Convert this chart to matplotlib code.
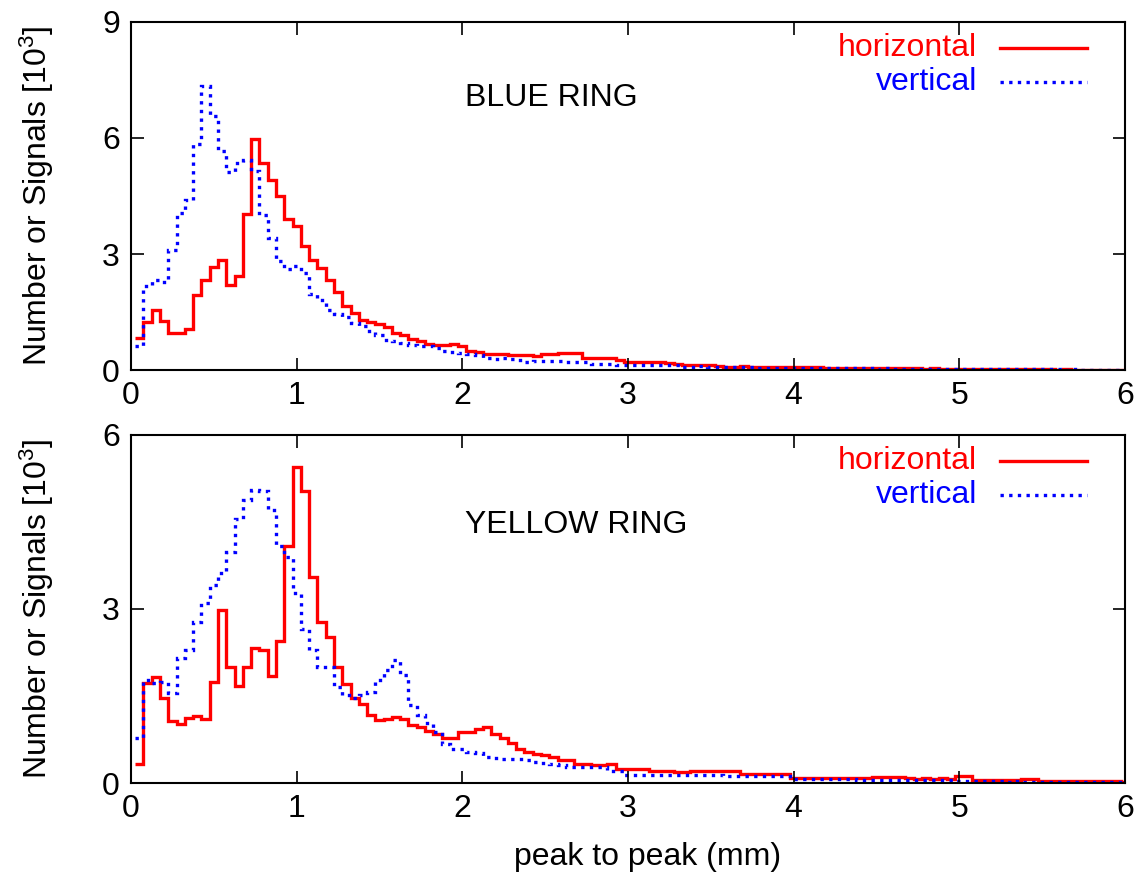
import numpy as np
import matplotlib
matplotlib.use('Agg')
import matplotlib.pyplot as plt

plt.rcParams['font.family'] = ['Liberation Sans', 'DejaVu Sans']
plt.rcParams['mathtext.default'] = 'regular'

# histogram bin width (mm), first bin centred at 0.05
bin_w = 0.05

# blue ring, counts per bin [10^3]
blue_h = [0.83, 1.24, 1.56, 1.28, 0.96, 0.96, 1.06, 1.93, 2.32, 2.66,
          2.84, 2.21, 2.42, 4.04, 5.97, 5.35, 4.92, 4.51, 3.90, 3.72,
          3.21, 2.85, 2.63, 2.32, 2.01, 1.66, 1.47, 1.29, 1.23, 1.20,
          1.11, 0.96, 0.91, 0.80, 0.74, 0.68, 0.64, 0.65, 0.67, 0.61,
          0.50, 0.46, 0.42, 0.42, 0.42, 0.40, 0.38, 0.40, 0.37, 0.41,
          0.41, 0.44, 0.44, 0.44, 0.31, 0.31, 0.30, 0.31, 0.25, 0.22,
          0.22, 0.20, 0.20, 0.20, 0.17, 0.16, 0.14, 0.13, 0.13, 0.14,
          0.10, 0.09, 0.09, 0.10, 0.09, 0.09, 0.09, 0.08, 0.09, 0.08,
          0.08, 0.07, 0.07, 0.06, 0.06, 0.05, 0.06, 0.05, 0.05, 0.05,
          0.04, 0.05, 0.04, 0.04, 0.04, 0.03, 0.04, 0.03, 0.03, 0.03,
          0.03, 0.03, 0.02, 0.03, 0.02, 0.02, 0.02, 0.02, 0.02, 0.02,
          0.02, 0.01, 0.02, 0.01, 0.01, 0.01, 0.01, 0.01, 0.01, 0.01]

blue_v = [0.61, 2.18, 2.32, 2.27, 3.11, 4.06, 4.40, 5.85, 7.35, 6.56,
          5.66, 5.12, 5.35, 5.44, 5.14, 4.02, 3.41, 2.83, 2.62, 2.70,
          2.51, 1.97, 1.80, 1.54, 1.45, 1.37, 1.22, 1.13, 1.00, 0.91,
          0.78, 0.74, 0.70, 0.65, 0.61, 0.63, 0.57, 0.48, 0.46, 0.44,
          0.42, 0.40, 0.31, 0.28, 0.31, 0.28, 0.25, 0.22, 0.24, 0.24,
          0.24, 0.23, 0.21, 0.21, 0.20, 0.15, 0.15, 0.15, 0.14, 0.14,
          0.14, 0.13, 0.14, 0.13, 0.13, 0.13, 0.09, 0.09, 0.10, 0.09,
          0.09, 0.09, 0.09, 0.09, 0.08, 0.06, 0.05, 0.05, 0.05, 0.05,
          0.05, 0.04, 0.05, 0.05, 0.04, 0.04, 0.04, 0.04, 0.04, 0.03,
          0.04, 0.03, 0.03, 0.03, 0.03, 0.03, 0.03, 0.03, 0.02, 0.03,
          0.02, 0.03, 0.02, 0.02, 0.02, 0.02, 0.02, 0.02, 0.02, 0.02,
          0.02, 0.02, 0.01, 0.02, 0.01, 0.01, 0.01, 0.01, 0.01, 0.01]

# yellow ring
yellow_h = [0.33, 1.72, 1.82, 1.46, 1.07, 1.01, 1.12, 1.16, 1.10, 1.74,
            2.98, 2.00, 1.68, 2.00, 2.32, 2.29, 1.85, 2.45, 4.09, 5.45,
            5.04, 3.56, 2.78, 2.52, 2.00, 1.71, 1.47, 1.36, 1.17, 1.09,
            1.11, 1.14, 1.10, 1.00, 0.96, 0.90, 0.85, 0.78, 0.77, 0.88,
            0.88, 0.94, 0.96, 0.85, 0.78, 0.69, 0.58, 0.54, 0.50, 0.48,
            0.45, 0.40, 0.40, 0.33, 0.33, 0.31, 0.31, 0.33, 0.25, 0.25,
            0.25, 0.25, 0.21, 0.21, 0.21, 0.19, 0.19, 0.21, 0.21, 0.21,
            0.21, 0.21, 0.21, 0.15, 0.15, 0.15, 0.15, 0.15, 0.15, 0.09,
            0.09, 0.09, 0.09, 0.09, 0.09, 0.09, 0.09, 0.09, 0.09, 0.10,
            0.10, 0.10, 0.10, 0.08, 0.07, 0.08, 0.07, 0.08, 0.07, 0.12,
            0.12, 0.06, 0.06, 0.06, 0.06, 0.06, 0.06, 0.07, 0.07, 0.04,
            0.04, 0.04, 0.03, 0.04, 0.03, 0.03, 0.04, 0.03, 0.03, 0.02]

yellow_v = [0.78, 1.77, 1.72, 1.74, 1.55, 2.15, 2.29, 2.78, 3.11, 3.41,
            3.62, 3.99, 4.55, 4.88, 5.05, 5.04, 4.71, 4.08, 3.90, 3.27,
            2.65, 2.29, 2.00, 2.00, 1.66, 1.51, 1.46, 1.51, 1.57, 1.77,
            1.95, 2.12, 1.86, 1.34, 1.17, 1.04, 0.88, 0.67, 0.59, 0.58,
            0.54, 0.51, 0.45, 0.44, 0.42, 0.42, 0.41, 0.39, 0.36, 0.35,
            0.33, 0.31, 0.28, 0.28, 0.28, 0.28, 0.28, 0.21, 0.21, 0.13,
            0.13, 0.13, 0.13, 0.13, 0.13, 0.13, 0.13, 0.13, 0.13, 0.13,
            0.13, 0.12, 0.12, 0.12, 0.12, 0.12, 0.12, 0.12, 0.12, 0.07,
            0.07, 0.07, 0.07, 0.07, 0.07, 0.07, 0.07, 0.06, 0.06, 0.06,
            0.06, 0.06, 0.06, 0.06, 0.06, 0.06, 0.06, 0.06, 0.06, 0.03,
            0.03, 0.03, 0.03, 0.03, 0.03, 0.02, 0.03, 0.02, 0.02, 0.02,
            0.02, 0.02, 0.02, 0.02, 0.02, 0.02, 0.01, 0.02, 0.01, 0.01]

panels = [
    ('BLUE RING', blue_h, blue_v, [0, 3, 6, 9], 0.782),
    ('YELLOW RING', yellow_h, yellow_v, [0, 3, 6], 0.741),
]

FS = 23
RED = '#ff0000'
BLUE = '#0000ff'
dots = (0, (1, 1.6))

fig = plt.figure(figsize=(11.44, 8.75), dpi=100)
rects = [[0.1145, 0.5771, 0.8689, 0.3978],
         [0.1145, 0.1051, 0.8689, 0.3978]]

for rect, (title, h, v, yt, ty) in zip(rects, panels):
    ax = fig.add_axes(rect)
    h_edges = bin_w * (np.arange(len(h) + 1) + 0.5)
    v_edges = bin_w * (np.arange(len(v) + 1) + 0.5)
    ax.stairs(h, h_edges, baseline=None, color=RED, lw=2.4)
    ax.stairs(v, v_edges, baseline=None, color=BLUE, lw=2.4, linestyle=dots)

    ax.set_xlim(0, 6)
    ax.set_ylim(yt[0], yt[-1])
    ax.set_xticks(range(7))
    ax.set_yticks(yt)
    ax.tick_params(direction='in', top=True, right=True, length=9, width=1.2,
                   labelsize=FS, pad=8)
    for s in ax.spines.values():
        s.set_linewidth(1.5)

    ax.set_ylabel(r'Number or Signals [10$^3$]', fontsize=FS)
    ax.yaxis.set_label_coords(-0.075, 0.5)

    ax.text(0.336, ty, title, transform=ax.transAxes, fontsize=FS,
            ha='left', va='center')

    # key: text right-aligned, line sample to its right
    ax.text(0.851, 0.925, 'horizontal', color=RED, fontsize=FS,
            transform=ax.transAxes, ha='right', va='center')
    ax.plot([0.874, 0.962], [0.925, 0.925], color=RED, lw=2.4,
            transform=ax.transAxes)
    ax.text(0.851, 0.828, 'vertical', color=BLUE, fontsize=FS,
            transform=ax.transAxes, ha='right', va='center')
    ax.plot([0.874, 0.962], [0.828, 0.828], color=BLUE, lw=2.4,
            linestyle=dots, transform=ax.transAxes)

fig.text(0.566, 0.02, 'peak to peak (mm)', fontsize=FS, ha='center', va='center')

fig.savefig('out.png', dpi=100)
